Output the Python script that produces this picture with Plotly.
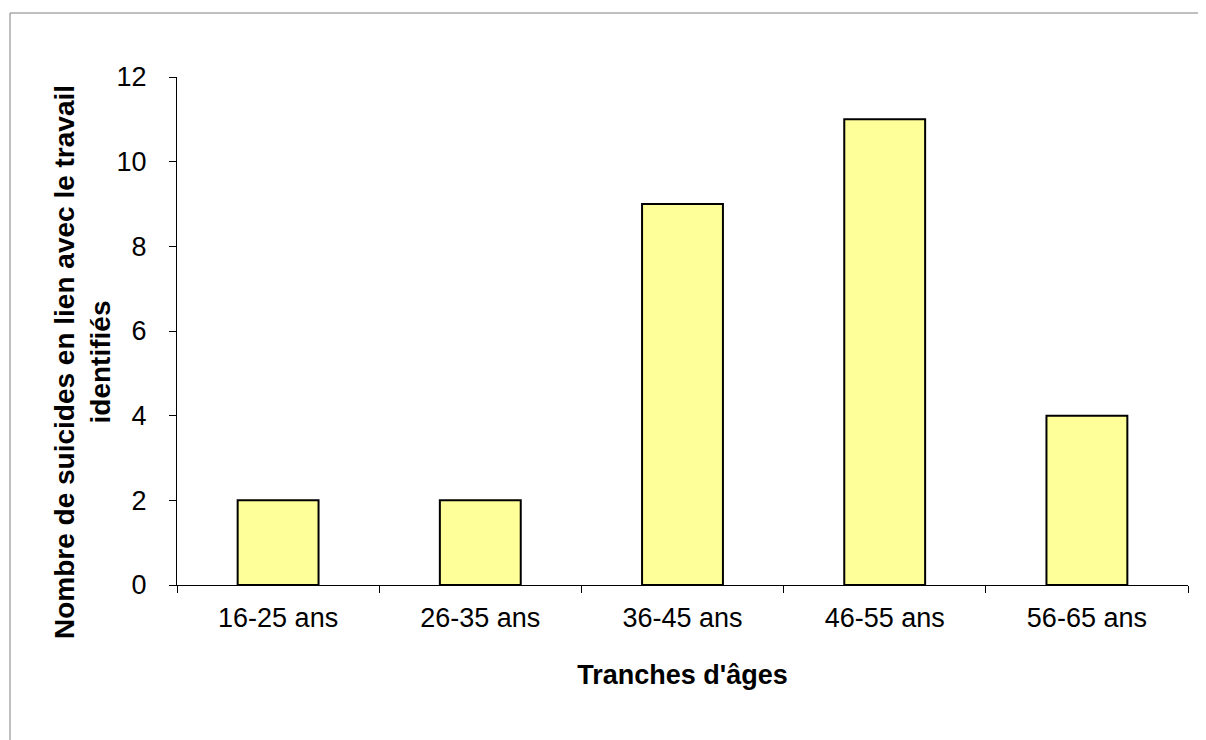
import plotly.graph_objects as go

categories = ["16-25 ans", "26-35 ans", "36-45 ans", "46-55 ans", "56-65 ans"]
values = [2, 2, 9, 11, 4]
y_ticks = [0, 2, 4, 6, 8, 10, 12]

FONT = "Liberation Sans, Arial, sans-serif"

fig = go.Figure(
    go.Bar(
        x=categories,
        y=values,
        marker=dict(color="#FFFF99", line=dict(color="#000000", width=2)),
        width=0.4,
    )
)

# the page body adds an 8px offset, so the figure is 8px smaller on each axis
W, H = 1198, 732
L, T = 169, 69
pw, ph = 1011, 508
R, B = W - L - pw, H - T - ph

fig.update_layout(
    width=W,
    height=H,
    margin=dict(l=L, r=R, t=T, b=B, autoexpand=False),
    paper_bgcolor="white",
    plot_bgcolor="white",
    showlegend=False,
    font=dict(family=FONT, size=27, color="#000000"),
    xaxis=dict(
        type="category",
        tickson="boundaries",
        ticks="outside",
        ticklen=7,
        tickcolor="#000000",
        showline=True,
        linecolor="#000000",
        linewidth=1,
        showgrid=False,
        tickfont=dict(size=27),
        ticklabelstandoff=9,
        title=dict(text="<b>Tranches d'âges</b>", font=dict(size=27), standoff=32),
        automargin=False,
    ),
    yaxis=dict(
        range=[0, 12],
        tickvals=y_ticks,
        ticks="outside",
        ticklen=7,
        tickcolor="#000000",
        showline=True,
        linecolor="#000000",
        linewidth=1,
        showgrid=False,
        zeroline=False,
        tickfont=dict(size=27),
        ticklabelstandoff=17,
        automargin=False,
    ),
)

# y-axis title (sits slightly below the plot centre, as in the original)
fig.add_annotation(
    text="<b>Nombre de suicides en lien avec le travail<br>identifiés</b>",
    textangle=-90,
    xref="paper",
    yref="paper",
    x=(74 - L) / pw,
    y=(T + ph - 354) / ph,
    xanchor="center",
    yanchor="middle",
    showarrow=False,
    font=dict(family=FONT, size=28, color="#000000"),
)

# outer chart-area border (extends beyond the right/bottom of the picture)
fig.add_shape(
    type="rect",
    xref="paper",
    yref="paper",
    x0=(2 - L) / pw,
    x1=(W + 20 - L) / pw,
    y0=-(H + 20 - T - ph) / ph,
    y1=(T + ph - 5) / ph,
    line=dict(color="#808080", width=1),
    fillcolor="rgba(0,0,0,0)",
    layer="below",
)

fig.write_html("out.html")
